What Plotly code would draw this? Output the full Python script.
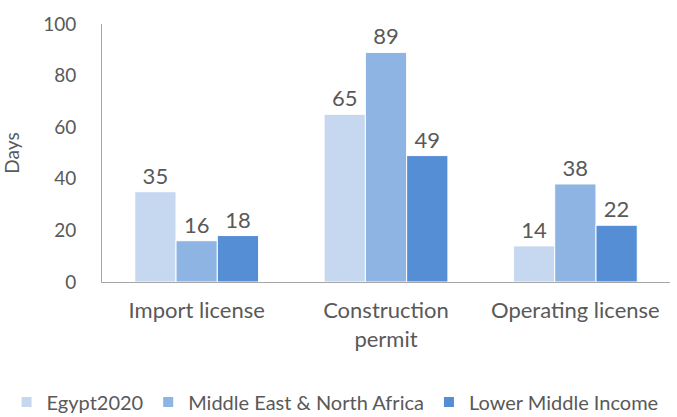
import plotly.graph_objects as go

categories = ["Import license", "Construction<br>permit", "Operating license"]
egypt = [35, 65, 14]
mena = [16, 89, 38]
lmi = [18, 49, 22]
series_names = ["Egypt2020", "Middle East & North Africa", "Lower Middle Income"]
colors = ["#C6D8F0", "#8EB4E3", "#558ED5"]

fig = go.Figure()
for name, vals, c in zip(series_names, [egypt, mena, lmi], colors):
    fig.add_trace(go.Bar(
        x=categories, y=vals, name=name,
        marker=dict(color=c, line=dict(color="white", width=1)),
        text=[str(v) for v in vals], textposition="outside",
        textfont=dict(size=22, color="#595959"),
        cliponaxis=False,
    ))

font = "Lato, Open Sans, sans-serif"
fig.update_layout(
    width=677, height=417,
    margin=dict(l=102, r=7, t=24, b=135, autoexpand=False),
    plot_bgcolor="white", paper_bgcolor="white",
    font=dict(family=font, color="#595959", size=20),
    barmode="group", bargap=0.346, bargroupgap=0,
    showlegend=True,
    legend=dict(orientation="h", x=-0.168, xanchor="left", y=-0.465, yanchor="middle",
                font=dict(size=20, color="#595959"), itemwidth=30,
                traceorder="normal", itemsizing="constant"),
    yaxis=dict(range=[0, 100], dtick=20, showgrid=False, zeroline=False,
               showline=True, linecolor="#A6A6A6", linewidth=1,
               ticks="", tickfont=dict(size=19), ticklen=0, ticklabelstandoff=21,
               title=dict(text="Days", font=dict(size=19), standoff=18)),
    xaxis=dict(showline=True, linecolor="#A6A6A6", linewidth=1, ticks="",
               tickfont=dict(size=22), ticklabelstandoff=9),
)
fig.write_html("out.html", config={"displayModeBar": False},
               post_script="document.body.style.margin='0';")
